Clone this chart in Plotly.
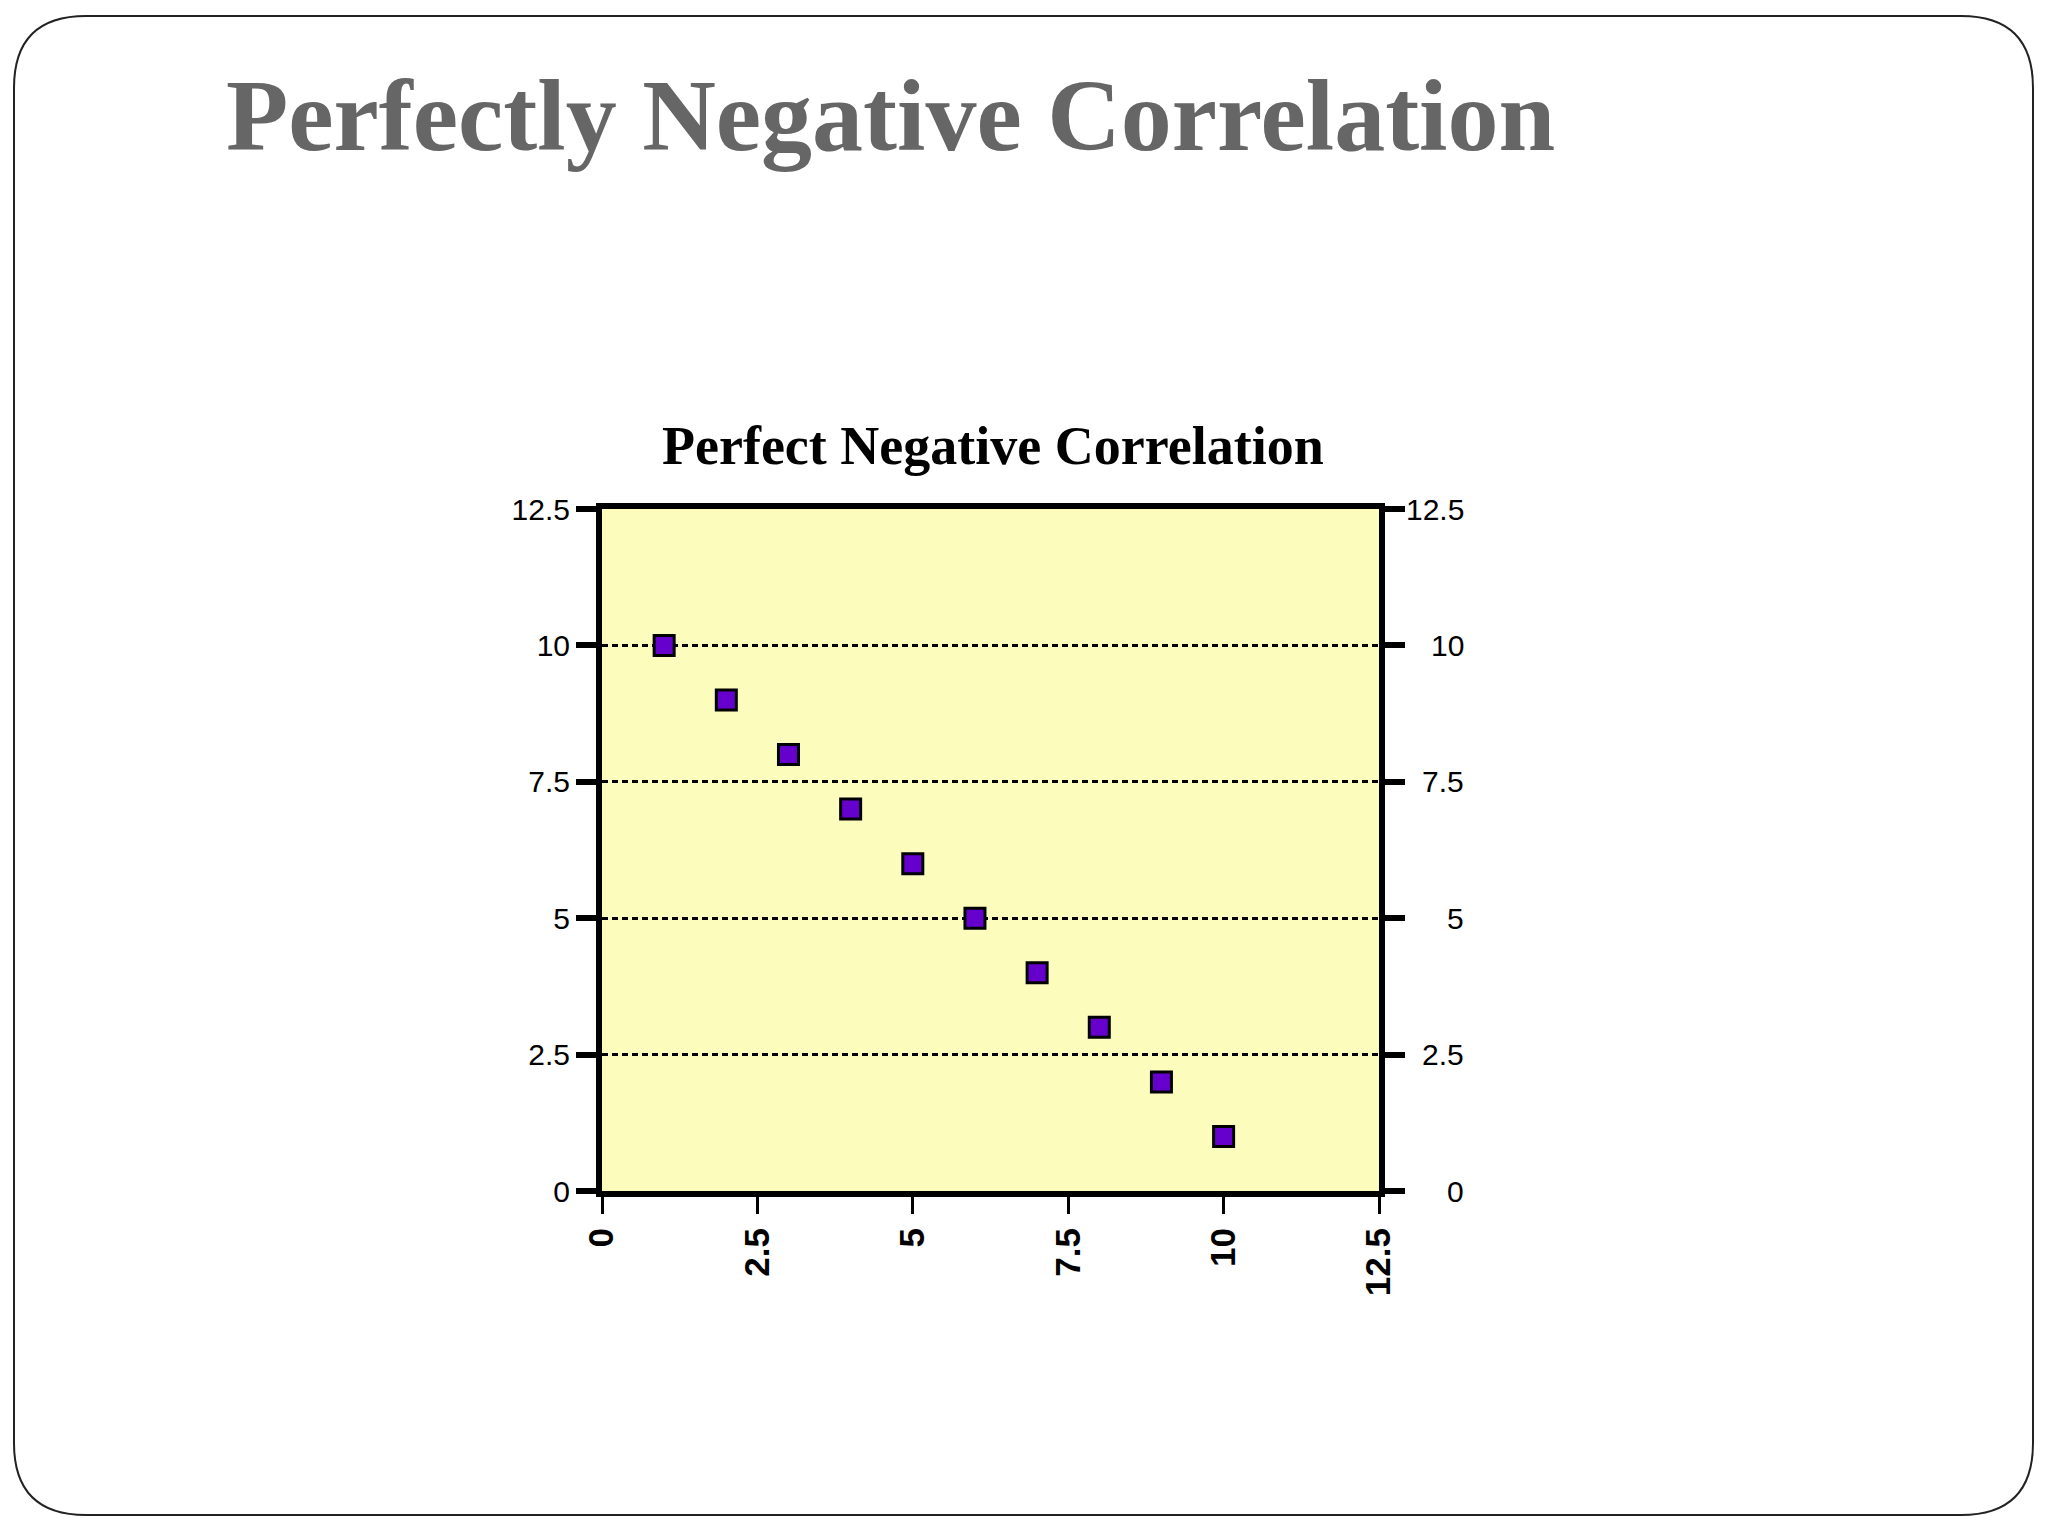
import plotly.graph_objects as go

# ---- data ----
x_values = [1, 2, 3, 4, 5, 6, 7, 8, 9, 10]
y_values = [10, 9, 8, 7, 6, 5, 4, 3, 2, 1]
tick_values = [0, 2.5, 5, 7.5, 10, 12.5]
tick_labels = ["0", "2.5", "5", "7.5", "10", "12.5"]
slide_title = "Perfectly Negative Correlation"
chart_title = "Perfect Negative Correlation"

# page has an 8px body margin: work in reference pixels, shift by OFF
OFF = 8
W, H = 2048 - OFF, 1536 - OFF
L = 602 - OFF
R = W - (1379 - OFF)
T = 509 - OFF
B = H - (1191 - OFF)
PW, PH = W - L - R, H - T - B


def px_to_paper(px, py):
    px -= OFF
    py -= OFF
    return (px - L) / PW, (H - B - py) / PH


fig = go.Figure()
fig.add_trace(go.Scatter(
    x=x_values, y=y_values, mode="markers",
    marker=dict(symbol="square", size=20, color="#6600cc",
                line=dict(color="black", width=3)),
    showlegend=False, cliponaxis=False,
))

# rounded slide border
x0, y0, x1, y1, rad = 14, 16, 2033, 1515, 72
def P(px, py):
    a, b = px_to_paper(px, py)
    return f"{a:.5f},{b:.5f}"
path = (
    f"M {P(x0 + rad, y0)} L {P(x1 - rad, y0)} Q {P(x1, y0)} {P(x1, y0 + rad)} "
    f"L {P(x1, y1 - rad)} Q {P(x1, y1)} {P(x1 - rad, y1)} "
    f"L {P(x0 + rad, y1)} Q {P(x0, y1)} {P(x0, y1 - rad)} "
    f"L {P(x0, y0 + rad)} Q {P(x0, y0)} {P(x0 + rad, y0)} Z"
)
fig.add_shape(type="path", path=path, xref="paper", yref="paper",
              line=dict(color="#222222", width=2), layer="below")

annotations = []
# right-side tick labels (right aligned)
for v, t in zip(tick_values, tick_labels):
    annotations.append(dict(
        x=1, xref="paper", y=v, yref="y", text=t, showarrow=False,
        xanchor="right", yanchor="middle", xshift=87,
        font=dict(family="Liberation Sans", size=30, color="black"),
    ))
# chart title
annotations.append(dict(
    x=px_to_paper(993, 0)[0], xref="paper", y=px_to_paper(0, 446)[1], yref="paper",
    text="<b>" + chart_title + "</b>", showarrow=False,
    xanchor="center", yanchor="middle",
    font=dict(family="Liberation Serif", size=54, color="black"),
))

fig.update_layout(
    width=W, height=H,
    margin=dict(l=L, r=R, t=T, b=B, autoexpand=False),
    paper_bgcolor="white",
    plot_bgcolor="#fcfcbc",
    title=dict(
        text="<b>" + slide_title + "</b>",
        x=(226 - OFF) / W, xref="container", xanchor="left",
        y=1 - (114 - OFF) / H, yref="container", yanchor="middle",
        font=dict(family="Liberation Serif", size=102, color="#666666"),
    ),
    annotations=annotations,
    xaxis=dict(
        range=[0, 12.5], tickvals=tick_values, ticktext=tick_labels,
        showline=True, linecolor="black", linewidth=6, mirror=True,
        ticks="outside", ticklen=17, tickwidth=3, tickcolor="black",
        tickangle=-90, showgrid=False, zeroline=False,
        tickfont=dict(family="Liberation Sans", size=35, color="black", weight="bold"),
    ),
    yaxis=dict(
        range=[0, 12.5], tickvals=tick_values, ticktext=tick_labels,
        showline=True, linecolor="black", linewidth=6, mirror="ticks",
        ticks="outside", ticklen=20, tickwidth=6, tickcolor="black",
        showgrid=True, gridcolor="black", gridwidth=3, griddash="6px,4px",
        zeroline=False,
        tickfont=dict(family="Liberation Sans", size=30, color="black"),
    ),
)

fig.write_html("out.html")
